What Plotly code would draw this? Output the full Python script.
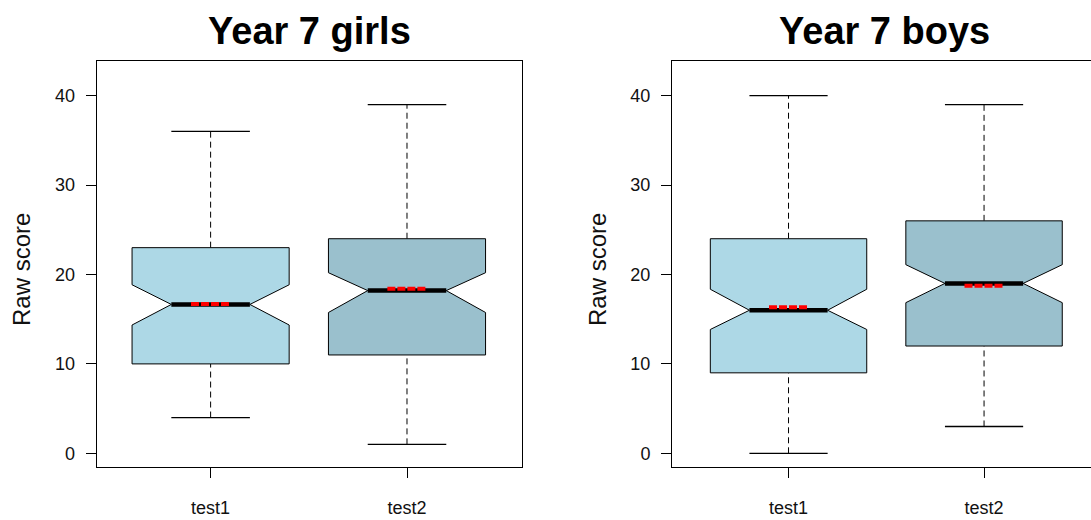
import plotly.graph_objects as go

# ---------------- data ----------------
categories = ["test1", "test2"]
positions = [1, 2]

girls_lower = [4, 1]
girls_q1 = [10, 11]
girls_median = [16.65, 18.2]
girls_q3 = [23, 24]
girls_upper = [36, 39]
girls_notch_low = [14.35, 15.75]
girls_notch_high = [18.85, 20.2]
girls_mean = [16.7, 18.4]

boys_lower = [0, 3]
boys_q1 = [9, 12]
boys_median = [16.0, 19.0]
boys_q3 = [24, 26]
boys_upper = [40, 39]
boys_notch_low = [13.85, 16.85]
boys_notch_high = [18.35, 21.1]
boys_mean = [16.35, 18.75]

panel_titles = ["Year 7 girls", "Year 7 boys"]
y_title = "Raw score"
y_ticks = [0, 10, 20, 30, 40]

# ---------------- style ----------------
fill_colors = ["#ADD8E6", "#9AC0CD"]
BOX_HALF = 0.4
NOTCH_FRAC = 0.5
STAPLE_HALF = 0.2
MEAN_HALF = 0.1
FONT = "Liberation Sans, Arial, sans-serif"

fig = go.Figure()


def add_panel(xa, ya, lower, q1, med, q3, upper, nlo, nhi, mean):
    for i, pos in enumerate(positions):
        w = BOX_HALF
        nf = NOTCH_FRAC
        # whiskers (dashed)
        fig.add_trace(go.Scatter(
            x=[pos, pos, None, pos, pos],
            y=[lower[i], q1[i], None, q3[i], upper[i]],
            mode="lines", line=dict(color="black", width=1, dash="6px,4px"),
            xaxis=xa, yaxis=ya, hoverinfo="skip", showlegend=False))
        # staples
        fig.add_trace(go.Scatter(
            x=[pos - STAPLE_HALF, pos + STAPLE_HALF, None, pos - STAPLE_HALF, pos + STAPLE_HALF],
            y=[lower[i], lower[i], None, upper[i], upper[i]],
            mode="lines", line=dict(color="black", width=1.3),
            xaxis=xa, yaxis=ya, hoverinfo="skip", showlegend=False))
        # notched box
        xs = [pos - w, pos + w, pos + w, pos + w * nf, pos + w, pos + w,
              pos - w, pos - w, pos - w * nf, pos - w, pos - w]
        ys = [q1[i], q1[i], nlo[i], med[i], nhi[i], q3[i],
              q3[i], nhi[i], med[i], nlo[i], q1[i]]
        fig.add_trace(go.Scatter(
            x=xs, y=ys, mode="lines", fill="toself", fillcolor=fill_colors[i],
            line=dict(color="black", width=1),
            xaxis=xa, yaxis=ya, hoverinfo="skip", showlegend=False))
        # median
        fig.add_trace(go.Scatter(
            x=[pos - w * nf, pos + w * nf], y=[med[i], med[i]],
            mode="lines", line=dict(color="black", width=4.5),
            xaxis=xa, yaxis=ya, hoverinfo="skip", showlegend=False))
        # mean (red dashed)
        fig.add_trace(go.Scatter(
            x=[pos - MEAN_HALF, pos + MEAN_HALF], y=[mean[i], mean[i]],
            mode="lines", line=dict(color="red", width=4, dash="8px,2px"),
            xaxis=xa, yaxis=ya, hoverinfo="skip", showlegend=False))


add_panel("x", "y", girls_lower, girls_q1, girls_median, girls_q3, girls_upper,
          girls_notch_low, girls_notch_high, girls_mean)
add_panel("x2", "y2", boys_lower, boys_q1, boys_median, boys_q3, boys_upper,
          boys_notch_low, boys_notch_high, boys_mean)

W, H = 1091, 520
y_dom = [1 - 467.3 / H, 1 - 61 / H]
y_range = [-1.566, 43.88]

common_x = dict(
    tickvals=positions, ticktext=categories, ticks="outside", ticklen=10,
    tickwidth=1, tickcolor="black", showgrid=False, zeroline=False,
    showline=True, linecolor="black", linewidth=1, mirror=True, automargin=False,
    tickfont=dict(family=FONT, size=18, color="#111"), ticklabelstandoff=14,
)
common_y = dict(
    tickvals=y_ticks, ticks="outside", ticklen=10, tickwidth=1, tickcolor="black",
    showgrid=False, zeroline=False, showline=True, linecolor="black", linewidth=1,
    automargin=False,
    tickfont=dict(family=FONT, size=18, color="#111"), ticklabelstandoff=7,
    range=y_range, domain=y_dom,
)

fig.update_layout(
    width=W, height=H, margin=dict(l=0, r=0, t=0, b=0, autoexpand=False),
    plot_bgcolor="white", paper_bgcolor="white", showlegend=False,
    font=dict(family=FONT, color="black"),
    xaxis=dict(common_x, domain=[96.7 / W, 521.7 / W], range=[0.42, 2.584], anchor="y"),
    yaxis=dict(common_y, mirror=True, anchor="x"),
    xaxis2=dict(common_x, domain=[672 / W, 1.0], range=[0.404, 2.547], anchor="y2"),
    yaxis2=dict(common_y, mirror=False, anchor="x2"),
)

title_x = [309.2 / W, 884.5 / W]
ytitle_x = [21 / W, 597 / W]
for i in range(2):
    fig.add_annotation(
        text=panel_titles[i], xref="paper", yref="paper", x=title_x[i], y=1 - 31.2 / H,
        xanchor="center", yanchor="middle", showarrow=False,
        font=dict(family=FONT, size=38, color="black", weight="bold"))
    fig.add_annotation(
        text=y_title, xref="paper", yref="paper", x=ytitle_x[i], y=1 - 270 / H,
        xanchor="center", yanchor="middle", showarrow=False, textangle=-90,
        font=dict(family=FONT, size=24, color="#111"))

fig.write_html("out.html", config={"displayModeBar": False},
               post_script="document.body.style.margin='0';document.body.style.overflow='hidden';")
